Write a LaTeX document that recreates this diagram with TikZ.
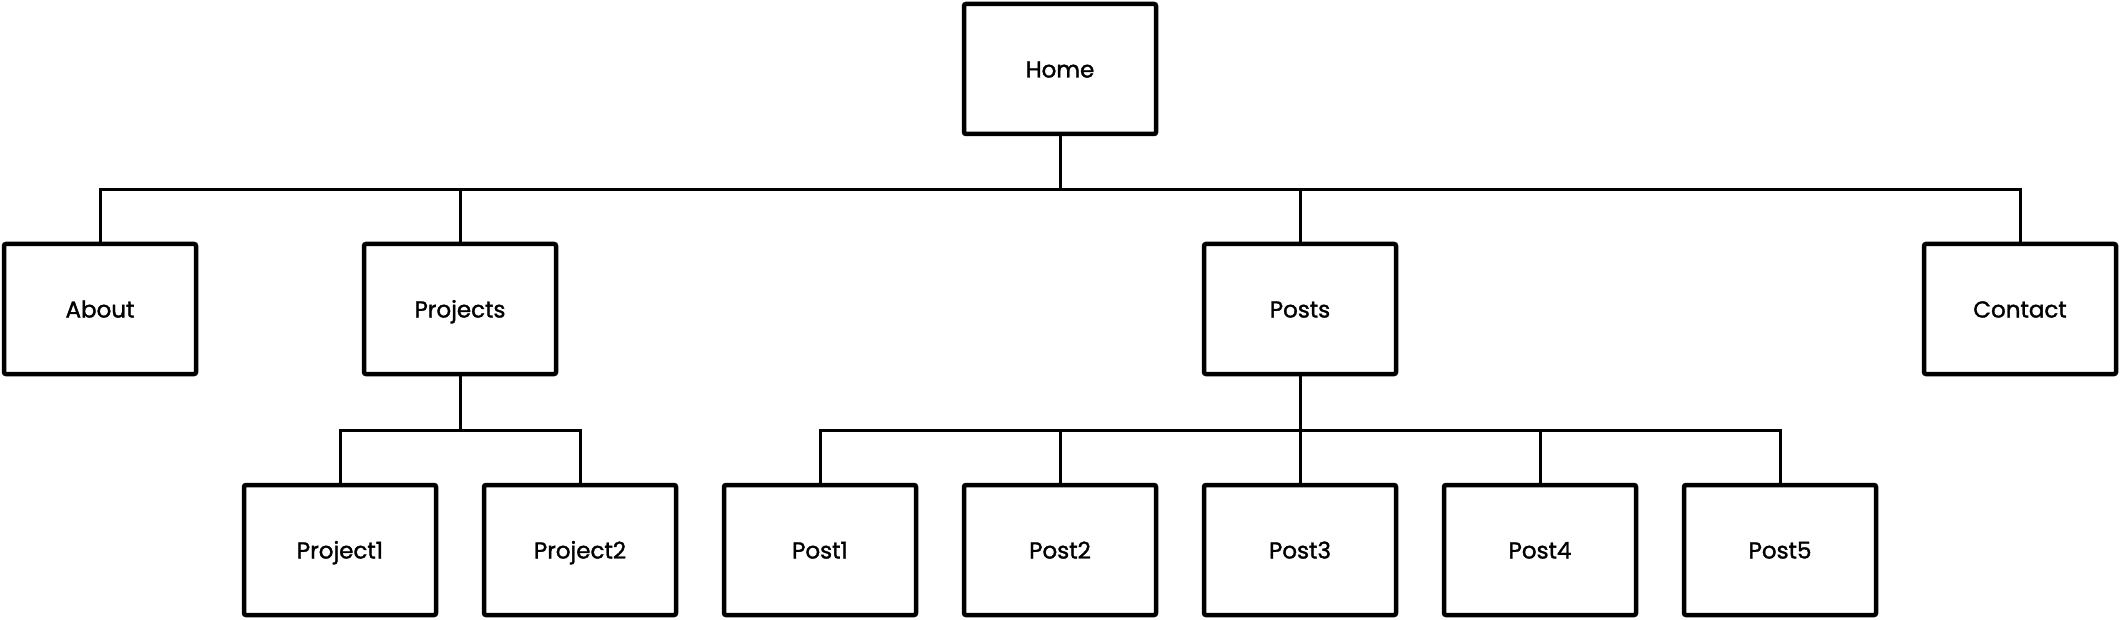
\documentclass[tikz,border=0pt]{standalone}
\usepackage{fontspec}
\setmainfont{Poppins}[FakeBold=1.5]
\begin{document}
\begin{tikzpicture}[x=1pt,y=-1pt,
  pagebox/.style={draw=black, line width=4.5pt, rounded corners=2pt, fill=white,
    minimum width=192pt, minimum height=130pt, inner sep=0pt,
    text height=19pt, text depth=2pt,
    font=\fontsize{23}{27}\selectfont},
  link/.style={draw=black, line width=3pt}]
\useasboundingbox (0,0) rectangle (2120,620);
% nodes
\node[pagebox] (home) at (1060,69) {Home};
\node[pagebox] (about) at (100,309) {About};
\node[pagebox] (projects) at (460,309) {Projects};
\node[pagebox] (posts) at (1300,309) {Posts};
\node[pagebox] (contact) at (2020,309) {Contact};
\node[pagebox] (project1) at (340,550) {Project1};
\node[pagebox] (project2) at (580,550) {Project2};
\node[pagebox] (post1) at (820,550) {Post1};
\node[pagebox] (post2) at (1060,550) {Post2};
\node[pagebox] (post3) at (1300,550) {Post3};
\node[pagebox] (post4) at (1540,550) {Post4};
\node[pagebox] (post5) at (1780,550) {Post5};
% bus coordinates
\coordinate (busA) at (1060,190);
\coordinate (busB) at (460,430);
\coordinate (busC) at (1300,430);
% connectors
\draw[link] (home.south) -- (busA);
\draw[link] (about.north) |- (busA);
\draw[link] (projects.north) |- (busA);
\draw[link] (posts.north) |- (busA);
\draw[link] (contact.north) |- (busA);
\draw[link] (projects.south) -- (busB);
\draw[link] (project1.north) |- (busB);
\draw[link] (project2.north) |- (busB);
\draw[link] (posts.south) -- (busC);
\draw[link] (post1.north) |- (busC);
\draw[link] (post2.north) |- (busC);
\draw[link] (post3.north) -- (busC);
\draw[link] (post4.north) |- (busC);
\draw[link] (post5.north) |- (busC);
\end{tikzpicture}
\end{document}
